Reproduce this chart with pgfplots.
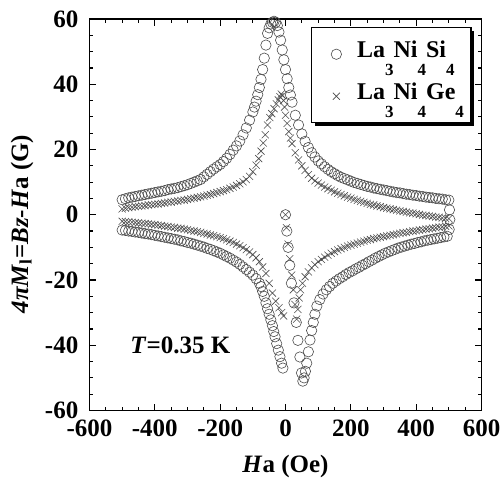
\documentclass[border=0pt]{standalone}
\usepackage{fontspec}
\setmainfont{Liberation Serif}
\usepackage{pgfplots}
\usepackage{pgfplotstable}
\pgfplotsset{compat=1.18}
\usetikzlibrary{shadows}
\newcommand\lsub[1]{\raisebox{-18.3bp}{\fontsize{17bp}{17bp}\selectfont #1}}
\newcommand\bigf{\fontsize{25bp}{30bp}\selectfont\bfseries}
\newcommand\legf{\fontsize{24bp}{26bp}\selectfont\bfseries}

\pgfplotstableread{
x y
500 4.5
490 4.6
480 4.8
470 4.9
460 5.0
450 5.2
440 5.3
430 5.4
420 5.6
410 5.7
400 5.9
390 6.0
380 6.2
370 6.3
360 6.5
350 6.7
340 6.8
330 7.0
320 7.2
310 7.4
300 7.6
290 7.8
280 8.0
270 8.2
260 8.5
250 8.7
240 9.0
230 9.3
220 9.6
210 9.9
200 10.3
190 10.7
180 11.1
170 11.5
160 12.0
150 12.6
140 13.2
130 13.9
120 14.7
110 15.6
100 16.5
90 17.7
80 19.0
70 20.6
60 22.5
50 24.8
40 27.5
30 30.5
20 34.5
15 36.7
10 39.0
5 41.7
0 44.5
-5 47.5
-10 50.5
-15 53.5
-20 56.0
-25 58.0
-30 59.0
-35 59.3
-40 59.0
-45 58.5
-50 57.3
-55 55.6
-60 52.0
-65 48.0
-70 44.5
-75 41.5
-80 39.0
-85 36.8
-90 34.8
-95 33.0
-100 31.5
-110 29.0
-120 26.6
-130 24.5
-140 22.6
-150 21.1
-160 19.8
-170 18.5
-180 17.3
-190 16.3
-200 15.4
-210 14.7
-220 14.0
-230 13.2
-240 12.4
-250 11.6
-260 10.8
-270 10.4
-280 10.0
-290 9.6
-300 9.2
-310 8.9
-320 8.6
-330 8.3
-340 8.1
-350 7.9
-360 7.7
-370 7.4
-380 7.2
-390 7.0
-400 6.8
-410 6.6
-420 6.4
-430 6.2
-440 6.0
-450 5.8
-460 5.6
-470 5.4
-480 5.2
-490 4.9
-500 4.6
-500 -4.7
-490 -4.8
-480 -5.0
-470 -5.1
-460 -5.3
-450 -5.4
-440 -5.6
-430 -5.8
-420 -5.9
-410 -6.1
-400 -6.3
-390 -6.5
-380 -6.7
-370 -6.9
-360 -7.1
-350 -7.3
-340 -7.5
-330 -7.7
-320 -8.0
-310 -8.2
-300 -8.5
-290 -8.7
-280 -9.0
-270 -9.3
-260 -9.6
-250 -9.9
-240 -10.3
-230 -10.6
-220 -11.0
-210 -11.4
-200 -11.8
-190 -12.3
-180 -12.8
-170 -13.3
-160 -13.9
-150 -14.5
-140 -15.2
-130 -16.0
-120 -16.8
-110 -17.6
-100 -18.5
-90 -19.6
-80 -21.0
-75 -22.0
-70 -23.5
-65 -25.0
-60 -27.0
-55 -28.8
-50 -30.5
-45 -32.2
-40 -34.0
-36 -35.8
-32 -37.4
-27 -39.5
-22 -41.5
-17 -43.5
-12 -45.5
-8 -47.0
0 0
4 -5
8 -10
13 -15.5
18 -21
26 -27
33 -33
38 -38.5
44 -43.6
49 -48.5
53 -51
57 -50
61 -48
65 -45.5
70 -42
75 -38.4
80 -35.5
85 -33
90 -30.5
96 -28
105 -26
115 -24.3
125 -23
135 -22
145 -21
155 -20.3
165 -19.6
175 -19.0
185 -18.3
195 -17.7
205 -17.2
215 -16.6
225 -16.1
235 -15.5
245 -15.0
255 -14.4
265 -13.9
275 -13.3
285 -12.8
295 -12.3
305 -11.8
315 -11.4
325 -11.0
335 -10.6
345 -10.2
355 -9.9
365 -9.6
375 -9.3
385 -9.0
395 -8.8
405 -8.5
415 -8.3
425 -8.0
435 -7.8
445 -7.6
455 -7.4
465 -7.2
475 -7.0
485 -6.8
495 -6.6
501 -4.5
503 -1.5
502 1.5
}\siTable

\pgfplotstableread{
x y
500 -1.2
490 -1.1
480 -1.0
470 -0.8
460 -0.7
450 -0.5
440 -0.4
430 -0.2
420 -0.1
410 0.1
400 0.3
390 0.5
380 0.6
370 0.8
360 1.0
350 1.2
340 1.4
330 1.6
320 1.8
310 2.0
300 2.2
290 2.5
280 2.7
270 3.0
260 3.2
250 3.5
240 3.8
230 4.1
220 4.4
210 4.7
200 5.1
190 5.4
180 5.8
170 6.2
160 6.6
150 7.0
140 7.5
130 8.0
120 8.5
110 9.1
100 9.7
90 10.4
80 11.2
70 12.3
60 13.6
50 15.0
40 16.8
30 19.0
20 21.8
15 23.5
10 25.5
5 28.0
0 30.5
-3 33.0
-6 35.0
-9 36.5
-13 37.0
-17 36.2
-22 35.2
-28 34.0
-35 32.5
-42 31.0
-48 29.8
-55 27.5
-62 24.5
-68 22.0
-75 19.5
-82 17.2
-90 15.2
-100 13.2
-110 11.8
-120 10.8
-130 10.1
-140 9.5
-150 9.0
-160 8.5
-170 8.1
-180 7.7
-190 7.4
-200 7.1
-210 6.8
-220 6.5
-230 6.2
-240 6.0
-250 5.7
-260 5.5
-270 5.3
-280 5.1
-290 4.9
-300 4.7
-310 4.5
-320 4.4
-330 4.2
-340 4.1
-350 3.9
-360 3.8
-370 3.6
-380 3.5
-390 3.3
-400 3.2
-410 3.1
-420 3.0
-430 2.8
-440 2.7
-450 2.6
-460 2.5
-470 2.3
-480 2.2
-490 2.0
-500 1.8
-500 -2.0
-490 -2.1
-480 -2.2
-470 -2.3
-460 -2.4
-450 -2.5
-440 -2.6
-430 -2.7
-420 -2.8
-410 -2.9
-400 -3.0
-390 -3.2
-380 -3.3
-370 -3.5
-360 -3.6
-350 -3.8
-340 -3.9
-330 -4.1
-320 -4.2
-310 -4.4
-300 -4.6
-290 -4.8
-280 -5.0
-270 -5.2
-260 -5.4
-250 -5.7
-240 -5.9
-230 -6.2
-220 -6.4
-210 -6.7
-200 -7.0
-190 -7.3
-180 -7.7
-170 -8.1
-160 -8.5
-150 -9.0
-140 -9.5
-130 -10.1
-120 -10.7
-110 -11.4
-100 -12.2
-90 -13.2
-80 -14.4
-70 -16.0
-60 -18.0
-50 -21.0
-40 -24.0
-30 -26.5
-20 -28.5
-12 -30.0
-6 -31.0
0 0
3 -4
8 -9
13 -13.5
19 -18.5
24 -23
29 -27.5
34 -32
38 -29
42 -25.5
46 -23
52 -21
60 -19
70 -17.5
80 -16.3
90 -15.3
100 -14.4
110 -13.7
120 -13.0
130 -12.4
140 -11.8
150 -11.3
160 -10.8
170 -10.4
180 -10.0
190 -9.6
200 -9.3
210 -9.0
220 -8.7
230 -8.4
240 -8.1
250 -7.8
260 -7.6
270 -7.3
280 -7.1
290 -6.9
300 -6.7
310 -6.5
320 -6.3
330 -6.1
340 -5.9
350 -5.7
360 -5.5
370 -5.4
380 -5.2
390 -5.0
400 -4.9
410 -4.7
420 -4.6
430 -4.4
440 -4.3
450 -4.1
460 -4.0
470 -3.8
480 -3.7
490 -3.5
500 -3.4
}\geTable

\begin{document}
\begin{tikzpicture}
\begin{axis}[
  scale only axis,
  width=392bp, height=391.5bp,
  xmin=-600, xmax=600, ymin=-60, ymax=60,
  xtick={-600,-400,-200,0,200,400,600},
  xticklabels={-600,-400,-200,0,200,400,600},
  ytick={-60,-40,-20,0,20,40,60},
  yticklabels={-60,-40,-20,0,20,40,60},
  minor x tick num=3, minor y tick num=3,
  tick align=inside,
  major tick length=7bp, minor tick length=4bp,
  every tick/.style={black, line width=1.2bp},
  axis line style={line width=1.6bp},
  tick label style={font=\bigf, inner sep=0pt},
  xticklabel style={yshift=-9.5bp},
  yticklabel style={xshift=-11bp},
  xlabel={\textit{H}a (Oe)},
  label style={font=\bigf},
  xlabel style={at={(axis description cs:0.5,-0.144)}, anchor=center},
  legend image code/.code={%
    \path (-10.5bp,-16.8bp) (0.6cm,0cm);
    \draw[mark repeat=2,mark phase=2,#1] plot coordinates {(0cm,0cm) (0.3cm,0cm) (0.6cm,0cm)};},
  legend style={at={(0.975,0.9796)}, anchor=north east, draw=black,
    line width=1.5bp, fill=white, font=\legf,
    nodes={inner sep=2bp},
    inner xsep=5bp, inner ysep=5.5bp, row sep=0bp,
    /tikz/every odd column/.append style={column sep=9.5bp},
    /tikz/every even column/.append style={nodes={text height=22bp, text depth=16bp}},
    drop shadow={shadow xshift=3.5bp, shadow yshift=-3.5bp, fill=black, opacity=1}},
  legend cell align=left,
]
\addplot[only marks, mark=o, mark size=5.2bp, draw=black!70, mark options={line width=0.6bp, fill=none}] table {\siTable};
\addlegendentry{La\lsub{3}Ni\lsub{4}Si\lsub{4}}
\addplot[only marks, mark=x, mark size=5bp, draw=black!70, mark options={line width=0.6bp}] table {\geTable};
\addlegendentry{La\lsub{3}Ni\lsub{4}Ge\lsub{4}}
\node[font=\bigf, anchor=center] at (axis cs:-322,-40) {\textit{T}=0.35 K};
\end{axis}
\node[font=\bigf, rotate=90, anchor=center] at (-67.5bp,186.5bp) {\textit{4πM}\textsubscript{l}=\textit{Bz}-\textit{H}a (G)};
\pgfresetboundingbox
\useasboundingbox (-89.5bp,-71.5bp) rectangle (410.5bp,410.5bp);
\end{tikzpicture}
\end{document}
